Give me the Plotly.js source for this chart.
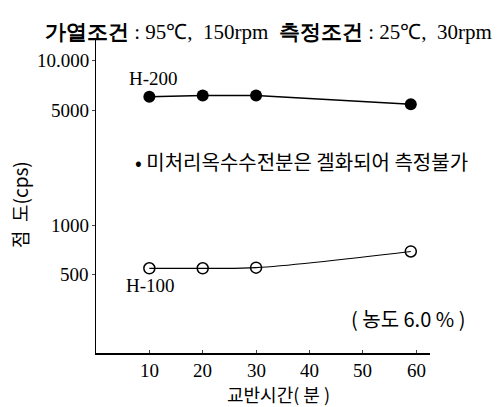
<!DOCTYPE html>
<html><head><meta charset="utf-8">
<script src="https://cdn.plot.ly/plotly-3.0.1.min.js"></script>
<style>body{margin:0;background:#fff}#c{width:497px;height:407px}</style>
</head><body><div id="c"></div>
<script>
const xH200 = [10, 20, 30, 59];
const yH200 = [6050, 6150, 6150, 5450];
const xH100 = [10, 20, 30, 59];
const yH100 = [545, 545, 550, 690];
const yTickVals = [500, 1000, 5000, 10000];
const yTickText = ['500', '1000', '5000', '10.000'];
const xTickVals = [10, 20, 30, 40, 50, 60];
const xTickText = ['10', '20', '30', '40', '50', '60'];

const FS = 'Liberation Serif';
const K = 'Noto Sans CJK KR';
const traces = [
  {x: xH200, y: yH200, mode: 'lines+markers', type: 'scatter',
   line: {color: '#000', width: 1.5},
   marker: {symbol: 'circle', size: 12, color: '#000'}},
  {x: xH100, y: yH100, mode: 'lines+markers', type: 'scatter',
   line: {color: '#000', width: 1.2, shape: 'spline'},
   marker: {symbol: 'circle-open', size: 11, color: '#000', line: {width: 1.5, color: '#000'}}}
];
const tickAnn = [];
xTickVals.forEach((v, i) => tickAnn.push({xref: 'x', yref: 'paper', x: v, y: 0, yshift: -17,
  yanchor: 'middle', showarrow: false, text: xTickText[i], font: {size: 19, family: FS}}));
yTickVals.forEach((v, i) => tickAnn.push({xref: 'paper', yref: 'y', x: 0, y: Math.log10(v), xshift: -5,
  xanchor: 'right', yanchor: 'middle', showarrow: false, text: yTickText[i], font: {size: 19, family: FS}}));

const layout = {
  width: 497, height: 407,
  margin: {l: 96, r: 67, t: 38, b: 54},
  paper_bgcolor: '#fff', plot_bgcolor: '#fff',
  showlegend: false,
  font: {family: FS, color: '#000', size: 18},
  xaxis: {range: [0, 62.6], tickvals: xTickVals, ticks: 'inside', ticklen: 3, showticklabels: false,
    showline: true, linecolor: '#000', linewidth: 1.5, showgrid: false, zeroline: false},
  yaxis: {type: 'log', range: [Math.log10(166), Math.log10(13800)],
    tickvals: yTickVals, ticks: 'outside', ticklen: 3, showticklabels: false,
    showline: true, linecolor: '#000', linewidth: 1.5, showgrid: false, zeroline: false},
  annotations: tickAnn.concat([
    {xref: 'paper', yref: 'paper', x: 0.5, y: 1, yshift: 20, xshift: 5, showarrow: false,
     text: '<b>가열조건</b> : 95℃,  150rpm  <b>측정조건</b> : 25℃,  30rpm',
     font: {size: 21, family: FS}},
    {xref: 'paper', yref: 'paper', x: 0.545, y: 0, yshift: -41, yanchor: 'middle', showarrow: false,
     text: '교반시간( 분 )', font: {size: 18, family: K}},
    {xref: 'paper', yref: 'paper', x: 0, y: 0.47, xshift: -76, xanchor: 'center', textangle: -90, showarrow: false,
     text: '점  도(cps)', font: {size: 19, family: K}},
    {xref: 'x', yref: 'y', x: 10.7, y: Math.log10(7870), showarrow: false,
     text: 'H-200', font: {size: 19, family: FS}},
    {xref: 'x', yref: 'y', x: 38.5, y: Math.log10(2450), showarrow: false,
     text: '• 미처리옥수수전분은 겔화되어 측정불가', font: {size: 20, family: K}},
    {xref: 'x', yref: 'y', x: 10.2, y: Math.log10(430), showarrow: false,
     text: 'H-100', font: {size: 19, family: FS}},
    {xref: 'x', yref: 'y', x: 58.5, y: Math.log10(268), showarrow: false,
     text: '( 농도 6.0 % )', font: {size: 20, family: K}}
  ])
};
Plotly.newPlot('c', traces, layout, {displayModeBar: false, staticPlot: true});
</script></body></html>
